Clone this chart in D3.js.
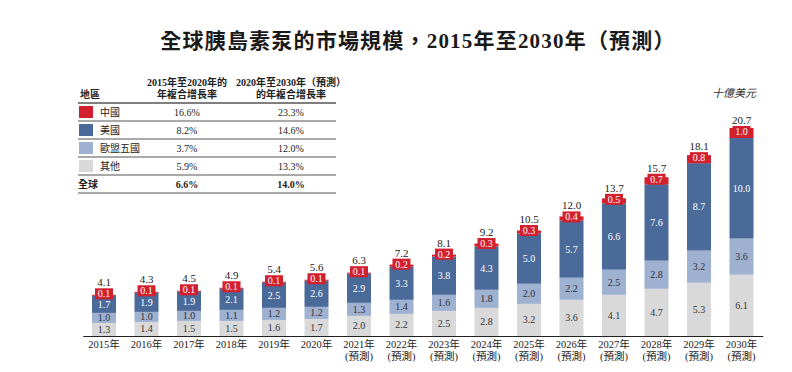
<!DOCTYPE html>
<html>
<head>
<meta charset="utf-8">
<script src="https://cdn.jsdelivr.net/npm/d3@7"></script>
<style>
  body { margin: 0; background: #fff; }
  svg text { font-family: "Liberation Serif", "Noto Sans CJK TC", serif; }
</style>
</head>
<body>
<div id="chart"></div>
<script>
const years = ["2015","2016","2017","2018","2019","2020","2021","2022","2023","2024","2025","2026","2027","2028","2029","2030"];
const china = [0.1,0.1,0.1,0.1,0.1,0.1,0.1,0.2,0.2,0.3,0.3,0.4,0.5,0.7,0.8,1.0];
const usa   = [1.7,1.9,1.9,2.1,2.5,2.6,2.9,3.3,3.8,4.3,5.0,5.7,6.6,7.6,8.7,10.0];
const eu5   = [1.0,1.0,1.0,1.1,1.2,1.2,1.3,1.4,1.6,1.8,2.0,2.2,2.5,2.8,3.2,3.6];
const other = [1.3,1.4,1.5,1.5,1.6,1.7,2.0,2.2,2.5,2.8,3.2,3.6,4.1,4.7,5.3,6.1];
const totals = [4.1,4.3,4.5,4.9,5.4,5.6,6.3,7.2,8.1,9.2,10.5,12.0,13.7,15.7,18.1,20.7];

const regions = ["中國","美國","歐盟五國","其他"];
const cagr1 = ["16.6%","8.2%","3.7%","5.9%"];
const cagr2 = ["23.3%","14.6%","12.0%","13.3%"];
const globalCagr = ["6.6%","14.0%"];

const W = 792, H = 372;
const BASE = 336;

// stacking order bottom -> top
const series = [
  { key: "other", values: other, color: "#d9d9da", text: "#333" },
  { key: "eu5", values: eu5, color: "#9eb1d1", text: "#333" },
  { key: "usa", values: usa, color: "#4a6a9a", text: "#fff" },
  { key: "china", values: china, color: "#d2202e", text: "#fff" }
];
const legendColors = ["#d2202e", "#4a6a9a", "#9eb1d1", "#d9d9da"];

const svg = d3.select("#chart").append("svg")
  .attr("width", W).attr("height", H);

// title
svg.append("text")
  .attr("x", 418).attr("y", 48)
  .attr("text-anchor", "middle")
  .style("font-size", "21px")
  .style("font-weight", "bold")
  .style("letter-spacing", "1.2px")
  .style("fill", "#1a1a1a")
  .text("全球胰島素泵的市場規模，2015年至2030年（預測）");

// scales
const x = d3.scaleBand()
  .domain(years)
  .range([82.75, 762.75])
  .paddingInner(0.435)
  .paddingOuter(0.2175);

const y = d3.scaleLinear()
  .domain([0, 20.7])
  .range([BASE, 128]);

// stacked data
const rows = years.map((yr, i) => {
  const r = { year: yr };
  series.forEach(s => { r[s.key] = s.values[i]; });
  return r;
});
const stack = d3.stack().keys(series.map(s => s.key))(rows);

// centre of a segment label; thin red tags sit a little higher
const isThin = d => y(d[0]) - y(d[1]) < 11;
const labelMid = (d, key) => (y(d[0]) + y(d[1])) / 2 - (key === "china" && isThin(d) ? 1.5 : 0);

const bars = svg.append("g");
stack.forEach((layer, li) => {
  const s = series[li];
  const g = bars.append("g");
  g.selectAll("rect")
    .data(layer)
    .join("rect")
    .attr("x", d => x(d.data.year))
    .attr("y", d => y(d[1]))
    .attr("width", x.bandwidth())
    .attr("height", d => y(d[0]) - y(d[1]))
    .attr("fill", s.color);

  if (s.key === "china") {
    // red label tag for thin segments
    g.selectAll("rect.tag")
      .data(layer.filter(isThin))
      .join("rect")
      .attr("class", "tag")
      .attr("x", d => x(d.data.year) + x.bandwidth() / 2 - 9)
      .attr("y", d => labelMid(d, s.key) - 5.5)
      .attr("width", 18)
      .attr("height", 11)
      .attr("fill", s.color);
  }

  g.selectAll("text")
    .data(layer)
    .join("text")
    .attr("x", d => x(d.data.year) + x.bandwidth() / 2)
    .attr("y", d => labelMid(d, s.key) + 3.5)
    .attr("text-anchor", "middle")
    .style("font-size", "10px")
    .style("fill", s.text)
    .text(d => d.data[s.key].toFixed(1));
});

// total labels
svg.append("g").selectAll("text")
  .data(stack[3])
  .join("text")
  .attr("x", d => x(d.data.year) + x.bandwidth() / 2)
  .attr("y", d => Math.min(y(d[1]) - 3, labelMid(d, "china") - 7.5))
  .attr("text-anchor", "middle")
  .style("font-size", "11px")
  .style("fill", "#1a1a1a")
  .text((d, i) => totals[i].toFixed(1));

// x axis
const xAxis = svg.append("g")
  .attr("transform", `translate(0,${BASE})`)
  .call(d3.axisBottom(x).tickSize(0).tickFormat(""));
xAxis.select(".domain").attr("stroke", "#222").attr("stroke-width", 1.2);

const labels = svg.append("g").selectAll("text")
  .data(years)
  .join("text")
  .attr("x", d => x(d) + x.bandwidth() / 2)
  .attr("y", 348)
  .attr("text-anchor", "middle")
  .style("font-size", "10.5px")
  .style("fill", "#222");
labels.append("tspan").text(d => d + "年");
labels.filter(d => +d >= 2021)
  .append("tspan")
  .attr("x", d => x(d) + x.bandwidth() / 2)
  .attr("dy", 12)
  .text("(預測)");

// unit label
svg.append("text")
  .attr("x", 734).attr("y", 97)
  .attr("text-anchor", "middle")
  .style("font-size", "11px")
  .style("font-style", "italic")
  .style("fill", "#333")
  .text("十億美元");

// table
const tbl = svg.append("g").style("font-size", "10px").style("fill", "#222");
const col1 = 187, col2 = 291, tl = 78, tr = 336;
tbl.append("text").attr("x", 80).attr("y", 98).style("font-weight", "bold").text("地區");
[["2015年至2020年的", "年複合增長率", col1], ["2020年至2030年（預測）", "的年複合增長率", col2]]
  .forEach(h => {
    tbl.append("text").attr("x", h[2]).attr("y", 86).attr("text-anchor", "middle")
      .style("font-weight", "bold").text(h[0]);
    tbl.append("text").attr("x", h[2]).attr("y", 98).attr("text-anchor", "middle")
      .style("font-weight", "bold").text(h[1]);
  });

const lineY = [103, 121, 139, 157, 175, 193];
tbl.selectAll("line")
  .data(lineY)
  .join("line")
  .attr("x1", tl).attr("x2", tr)
  .attr("y1", d => d).attr("y2", d => d)
  .attr("stroke", "#555")
  .attr("stroke-width", (d, i) => (i === 0 ? 1.3 : 1));

regions.forEach((r, i) => {
  const cy = (lineY[i] + lineY[i + 1]) / 2;
  tbl.append("rect").attr("x", 79).attr("y", cy - 6).attr("width", 14).attr("height", 12)
    .attr("fill", legendColors[i]);
  tbl.append("text").attr("x", 100).attr("y", cy + 4).text(r);
  tbl.append("text").attr("x", col1).attr("y", cy + 4).attr("text-anchor", "middle").text(cagr1[i]);
  tbl.append("text").attr("x", col2).attr("y", cy + 4).attr("text-anchor", "middle").text(cagr2[i]);
});
const gy = (lineY[4] + lineY[5]) / 2 + 4;
tbl.append("text").attr("x", 78).attr("y", gy).style("font-weight", "bold").text("全球");
tbl.append("text").attr("x", col1).attr("y", gy).attr("text-anchor", "middle").style("font-weight", "bold").text(globalCagr[0]);
tbl.append("text").attr("x", col2).attr("y", gy).attr("text-anchor", "middle").style("font-weight", "bold").text(globalCagr[1]);
</script>
</body>
</html>
